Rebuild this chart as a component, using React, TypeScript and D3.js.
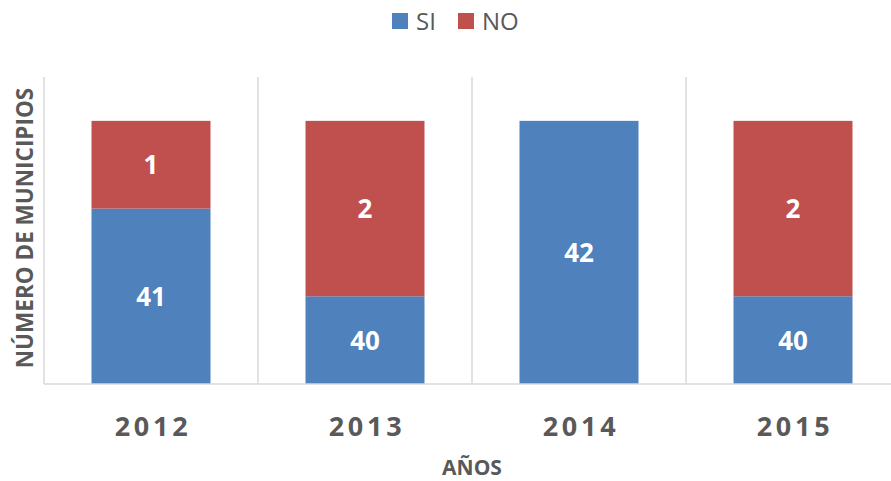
import React from 'react';
import * as d3 from 'd3';

const years = ['2012', '2013', '2014', '2015'];
const si = [41, 40, 42, 40];
const no = [1, 2, 0, 2];
const seriesNames = ['SI', 'NO'];
const colors = ['#4F81BD', '#C0504D'];

const W = 891;
const H = 481;
const m = {left: 44, right: -9, top: 77, bottom: 97};

export default function App() {
  const x = d3.scaleBand().domain(years).range([m.left, W - m.right]).paddingInner(0).paddingOuter(0);
  const y = d3.scaleLinear().domain([39, 42.5]).range([H - m.bottom, m.top]);
  const bw = x.bandwidth() * 0.556;

  const rows = years.map((yr, i) => ({year: yr, SI: si[i], NO: no[i]}));
  const stack = d3.stack<any>().keys(seriesNames)(rows);

  return (
    <svg width={W} height={H} style={{position: 'absolute', left: 0, top: 0}}>
      <rect width={W} height={H} fill="#fff" />
      {years.map((yr, i) => (
        <line key={yr} x1={x(yr)!} x2={x(yr)!} y1={m.top} y2={y(39)} stroke="#D9D9D9" strokeWidth={1.5} />
      ))}
      {stack.map((s, k) => (
        <g key={s.key}>
          {s.map((d, i) => {
            const y0 = y(Math.max(d[0], 39));
            const y1 = y(d[1]);
            const h = y0 - y1;
            if (h <= 0) return null;
            const cx = x(years[i])! + x.bandwidth() / 2;
            const val = k === 0 ? si[i] : no[i];
            return (
              <g key={i}>
                <rect x={cx - bw / 2} y={y1} width={bw} height={h} fill={colors[k]} />
                <text x={cx} y={(y0 + y1) / 2} dy="0.36em" textAnchor="middle" fill="#fff"
                  fontFamily="'Open Sans', sans-serif" fontWeight="bold" fontSize={26}>{val}</text>
              </g>
            );
          })}
        </g>
      ))}
      <line x1={m.left} x2={W} y1={y(39)} y2={y(39)} stroke="#D9D9D9" strokeWidth={1.5} />
      {years.map(yr => (
        <text key={yr} x={x(yr)! + x.bandwidth() / 2 + 2} y={436} textAnchor="middle" fill="#595959"
          fontFamily="'Open Sans', sans-serif" fontWeight="bold" fontSize={27} letterSpacing={3.7}>{yr}</text>
      ))}
      <text x={472} y={475} textAnchor="middle" fill="#595959" fontFamily="'Open Sans', sans-serif"
        fontWeight="bold" fontSize={21}>AÑOS</text>
      <text transform="translate(33,228) rotate(-90)" textAnchor="middle" fill="#595959"
        fontFamily="'Open Sans', sans-serif" fontWeight="bold" fontSize={22.5}>NÚMERO DE MUNICIPIOS</text>
      {seriesNames.map((n, k) => (
        <g key={n} transform={`translate(${392 + k * 66},13)`}>
          <rect width={16} height={16} fill={colors[k]} />
          <text x={24} y={16.5} fill="#595959" fontFamily="'Open Sans', sans-serif" fontSize={24}>{n}</text>
        </g>
      ))}
    </svg>
  );
}
